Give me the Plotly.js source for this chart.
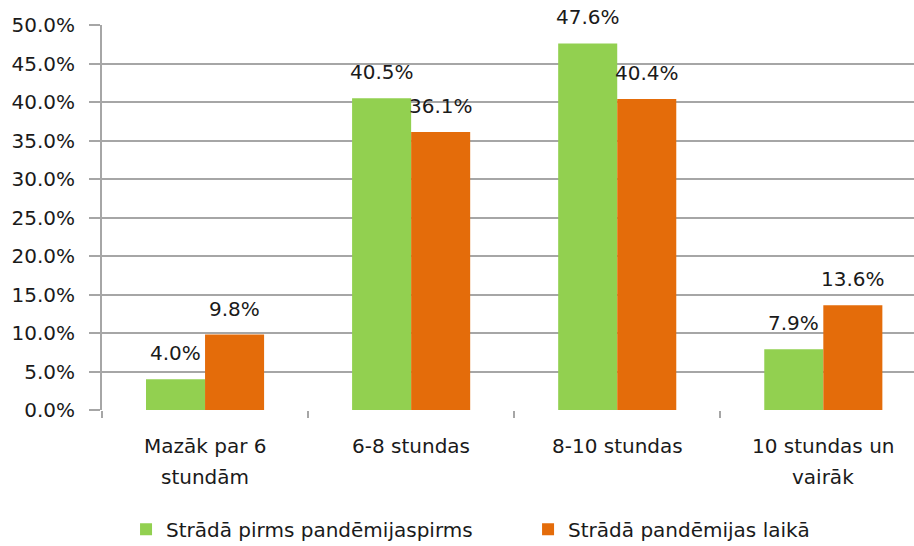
<!DOCTYPE html>
<html>
<head>
<meta charset="utf-8">
<script src="https://cdn.plot.ly/plotly-3.0.1.min.js"></script>
<style>html,body{margin:0;padding:0;background:#fff;}#chart{width:914px;height:546px;}</style>
</head>
<body>
<div id="chart"></div>
<script>
const categories = ["Mazāk par 6<br>stundām", "6-8 stundas", "8-10 stundas", "10 stundas un<br>vairāk"];
const seriesNames = ["Strādā pirms pandēmijaspirms", "Strādā pandēmijas laikā"];
const beforeValues = [0.040, 0.405, 0.476, 0.079];
const duringValues = [0.098, 0.361, 0.404, 0.136];
const seriesColors = ["#92d050", "#e46c0a"];

const font = "DejaVu Sans, Verdana, sans-serif";
const textColor = "#1a1a1a";
const gridColor = "#a6a6a6";

const traces = [beforeValues, duringValues].map((vals, i) => ({
  type: "bar",
  name: seriesNames[i],
  x: categories,
  y: vals,
  legend: i === 0 ? "legend" : "legend2",
  marker: {color: seriesColors[i], line: {width: 0}},
  hoverinfo: "none"
}));

const annotations = [];
[beforeValues, duringValues].forEach((vals, i) => {
  vals.forEach((v, j) => {
    annotations.push({
      x: categories[j], y: v, xref: "x", yref: "y",
      text: (v * 100).toFixed(1) + "%",
      showarrow: false,
      xshift: i === 0 ? -29.5 : 29.5,
      yshift: 26,
      yanchor: "middle",
      font: {family: font, size: 20, color: textColor}
    });
  });
});
// category labels, one annotation per line for exact line spacing
categories.forEach((c) => {
  c.split("<br>").forEach((line, k) => {
    annotations.push({
      x: c, y: 0, xref: "x", yref: "y",
      text: line,
      showarrow: false,
      yanchor: "middle",
      yshift: -36 - 31 * k,
      font: {family: font, size: 20, color: textColor}
    });
  });
});

const legendBase = {
  orientation: "h",
  y: -0.31, yanchor: "middle", xanchor: "left",
  font: {family: font, size: 20, color: textColor},
  bgcolor: "rgba(0,0,0,0)"
};

const layout = {
  width: 914, height: 546,
  margin: {l: 102, r: 0, t: 25, b: 136, autoexpand: false},
  paper_bgcolor: "#fff", plot_bgcolor: "#fff",
  barmode: "group",
  bargap: 0.427, bargroupgap: 0,
  font: {family: font, size: 20, color: textColor},
  xaxis: {
    type: "category",
    range: [-0.5, 3.44],
    showgrid: false,
    showline: false,
    showticklabels: false,
    ticks: "outside", tickson: "boundaries", ticklen: 7, tickwidth: 2, tickcolor: gridColor,
    zeroline: false
  },
  yaxis: {
    range: [0, 0.5],
    dtick: 0.05, tick0: 0,
    tickformat: ".1%",
    showgrid: true, gridcolor: gridColor, gridwidth: 2,
    showline: true, linecolor: gridColor, linewidth: 2,
    ticks: "outside", ticklen: 11, tickwidth: 2, tickcolor: gridColor,
    ticklabelstandoff: 10,
    tickfont: {family: font, size: 20, color: textColor},
    zeroline: false
  },
  showlegend: true,
  legend: Object.assign({}, legendBase, {x: 0.0296}),
  legend2: Object.assign({}, legendBase, {x: 0.5247}),
  annotations: annotations
};

Plotly.newPlot("chart", traces, layout, {displayModeBar: false, staticPlot: true});
</script>
</body>
</html>
